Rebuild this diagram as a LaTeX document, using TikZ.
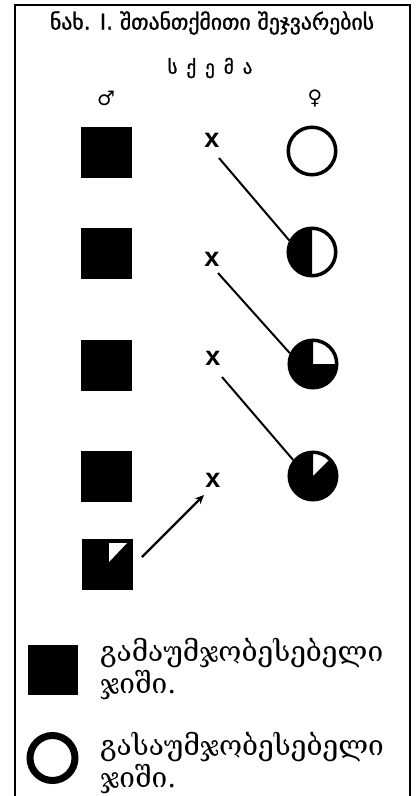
\documentclass[tikz,border=0pt]{standalone}
\usepackage{fontspec}
\setmainfont{DejaVu Sans}
\newfontfamily\titlefont[FakeBold=1.2]{DejaVu Sans}
\newfontfamily\sexfont{DejaVu Sans}
\newfontfamily\legendfont{DejaVu Serif}
\newfontfamily\markfont{Liberation Sans}
\usetikzlibrary{arrows.meta}

\begin{document}
\begin{tikzpicture}[x=1pt,y=1pt,
  sq/.style={fill=black, minimum size=51pt, inner sep=0pt},
  pie/.style={circle, draw=black, fill=white, line width=3.5pt, minimum size=47.5pt, inner sep=0pt},
  cross/.style={font=\markfont\bfseries\fontsize{27}{27}\selectfont, inner sep=0pt},
  conn/.style={line width=2pt},
  titletext/.style={font=\titlefont\fontsize{19}{20}\selectfont, inner sep=0pt},
  sextext/.style={font=\sexfont\fontsize{20}{20}\selectfont, inner sep=0pt},
  legendtext/.style={font=\legendfont\fontsize{28}{32}\selectfont, align=left, anchor=west, inner sep=0pt},
]
\useasboundingbox (0,0) rectangle (417,-796);

% frame, open at the bottom
\draw[line width=2.7pt] (15,-796) -- (15,-5) -- (410,-5) -- (410,-796);

% heading
\node[titletext] (title) at (212,-23) {\resizebox{324pt}{!}{ნახ. I. შთანთქმითი შეჯვარების}};
\node[titletext] (scheme) at (210,-68) {ს\hspace{9pt}ქ\hspace{9pt}ე\hspace{9pt}მ\hspace{9pt}ა};
\node[sextext] (male) at (106,-98) {♂};
\node[sextext] (female) at (315,-98) {♀};

% males: improving breed
\node[sq] (m1) at (106.5,-152.5) {};
\node[sq] (m2) at (106.5,-253.5) {};
\node[sq] (m3) at (106.5,-365) {};
\node[sq] (m4) at (106.5,-476) {};
\node[sq] (m5) at (107,-564.5) {};
\fill[white] ([shift={(2,21.5)}]m5.center) -- ++(18,0) -- ++(-18,-19) -- cycle;

% crossing marks
\node[cross] (x1) at (212,-140) {x};
\node[cross] (x2) at (212,-259) {x};
\node[cross] (x3) at (213,-358) {x};
\node[cross] (x4) at (213,-480) {x};

% females: share of the improved breed
\node[pie] (f1) at (312,-151) {};
\node[pie] (f2) at (312,-252) {};
\node[pie] (f3) at (313,-364) {};
\node[pie] (f4) at (313,-476) {};
\fill (f2.center) -- ++(90:23.75pt) arc[start angle=90, end angle=270, radius=23.75pt] -- cycle;
\fill (f3.center) -- ++(90:23.75pt) arc[start angle=90, end angle=360, radius=23.75pt] -- cycle;
\fill (f4.center) -- ++(90:23.75pt) arc[start angle=90, end angle=405, radius=23.75pt] -- cycle;

% offspring lines
\draw[conn] ([shift={(7,-18)}]x1.center) -- (f2.153);
\draw[conn] ([shift={(6,-14)}]x2.center) -- (f3.155);
\draw[conn] ([shift={(9,-19)}]x3.center) -- (f4.141);
\draw[conn, line width=2.3pt, -{Stealth[length=9pt, width=8pt]}] ([shift={(35,7.5)}]m5.center) -- ([shift={(-9,-15)}]x4.center);

% legend
\node[sq, minimum size=50pt] (ksq) at (53,-670) {};
\node[circle, draw=black, line width=7pt, minimum size=45pt, inner sep=0pt] (kcirc) at (52.5,-758) {};
\node[legendtext] (ktext1) at (100,-669) {გამაუმჯობესებელი\\ჯიში.};
\node[legendtext] (ktext2) at (100,-763) {გასაუმჯობესებელი\\ჯიში.};
\end{tikzpicture}
\end{document}
